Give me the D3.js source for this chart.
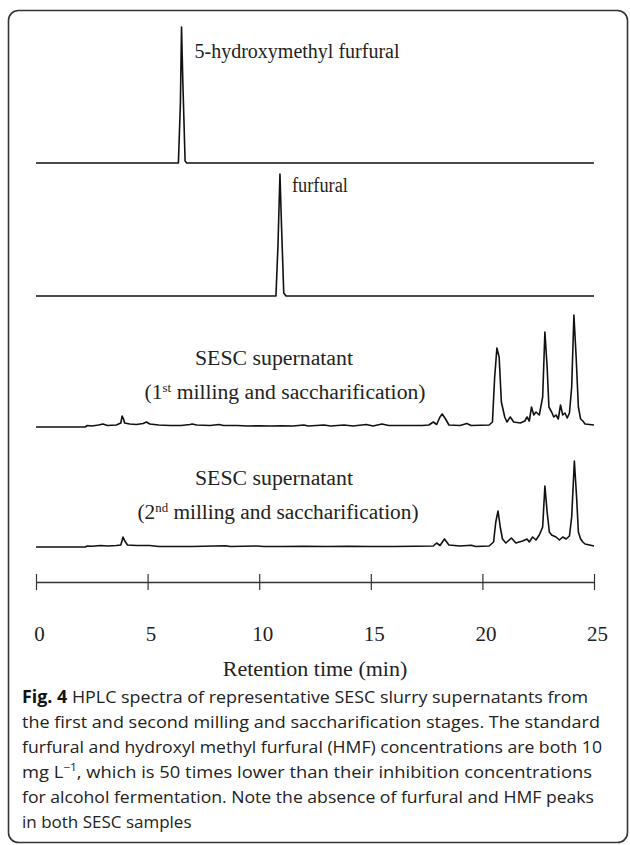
<!DOCTYPE html>
<html>
<head>
<meta charset="utf-8">
<script src="https://cdn.jsdelivr.net/npm/d3@7"></script>
<style>
  html, body { margin: 0; padding: 0; background: #fff; }
  svg { display: block; }
</style>
</head>
<body>
<div id="chart"></div>
<script>
// retention time (min), signal (relative units)
const hmfTrace = [
  [0, 0], [6.38, 0], [6.47, 60], [6.52, 136], [6.58, 80], [6.68, 2], [6.75, 0], [25, 0]
];
const furfuralTrace = [
  [0, 0], [10.75, 0], [10.84, 50], [10.93, 122], [11.0, 70], [11.1, 3], [11.2, 0], [25, 0]
];
const sesc1Trace = [
  [0, 0], [2.2, 0], [2.3, 1.5], [2.5, 1], [2.8, 2], [3.0, 3], [3.2, 1.5], [3.6, 2], [3.8, 4],
  [3.86, 11], [3.92, 8], [3.97, 4], [4.2, 3], [4.5, 2.5], [4.8, 3.5], [4.95, 5], [5.1, 3],
  [5.5, 2], [6, 1.5], [6.5, 1.5], [6.9, 2.5], [7.0, 3], [7.2, 2], [7.8, 1.5], [8.2, 2.5],
  [8.4, 1.5], [9, 1.5], [9.5, 1], [10, 1.2], [10.5, 1], [11, 1.2], [11.5, 1], [12.0, 2],
  [12.2, 1], [12.9, 2], [13.2, 1], [13.8, 2], [14.2, 1], [14.8, 2.5], [15.1, 1], [15.5, 3],
  [15.8, 1.5], [16.5, 1.5], [17.3, 1.5], [17.6, 2], [17.8, 5], [17.95, 2.5], [18.1, 10],
  [18.2, 13], [18.35, 8], [18.5, 2], [19.0, 1.5], [19.3, 3.5], [19.5, 1.5], [20.3, 2],
  [20.45, 5], [20.55, 50], [20.65, 79], [20.75, 70], [20.85, 25], [21.0, 10], [21.1, 5],
  [21.25, 10], [21.4, 5], [21.7, 4], [21.9, 6], [22.0, 10], [22.1, 6], [22.2, 20], [22.3, 12],
  [22.4, 15], [22.55, 12], [22.7, 30], [22.8, 95], [22.9, 60], [22.98, 20], [23.1, 15],
  [23.2, 10], [23.3, 12], [23.4, 8], [23.5, 22], [23.6, 12], [23.7, 14], [23.8, 9], [23.9, 14],
  [24.0, 40], [24.1, 112], [24.2, 70], [24.3, 20], [24.4, 8], [24.5, 6], [24.6, 3], [25, 2]
];
const sesc2Trace = [
  [0, 0], [2.2, 0], [2.3, 1], [2.5, 0.8], [2.9, 1.5], [3.2, 1], [3.6, 1.5], [3.8, 2], [3.9, 10],
  [3.98, 6], [4.1, 2], [4.5, 1.5], [5.1, 1.5], [5.5, 0.5], [6, 0.5], [7, 0.5], [8.5, 1.3],
  [8.7, 0.5], [9.9, 1], [10.2, 0.5], [11, 0.5], [12, 0.8], [13, 0.5], [14, 0.8], [15, 0.5],
  [16, 0.5], [17, 0.7], [17.8, 1], [17.95, 4], [18.1, 1.5], [18.3, 8], [18.5, 2], [19, 1],
  [19.5, 1.8], [19.7, 0.5], [20.3, 1], [20.5, 5], [20.6, 25], [20.7, 36], [20.8, 20], [20.9, 8],
  [21.05, 4], [21.3, 9], [21.5, 4], [21.8, 6], [22.0, 8], [22.1, 5], [22.25, 10], [22.4, 7],
  [22.55, 12], [22.7, 20], [22.8, 61], [22.9, 35], [23.0, 15], [23.1, 12], [23.3, 10],
  [23.45, 7], [23.6, 10], [23.75, 8], [23.9, 11], [24.0, 30], [24.12, 86], [24.22, 50],
  [24.3, 15], [24.4, 8], [24.5, 5], [24.6, 3], [25, 1]
];

const timeTicks = [0, 5, 10, 15, 20, 25];
const axisTitle = "Retention time (min)";
// each caption line as [text, superscript, text]
const captionLines = [
  ["HPLC spectra of representative SESC slurry supernatants from"],
  ["the first and second milling and saccharification stages. The standard"],
  ["furfural and hydroxyl methyl furfural (HMF) concentrations are both 10"],
  ["mg L", "\u22121", ", which is 50 times lower than their inhibition concentrations"],
  ["for alcohol fermentation. Note the absence of furfural and HMF peaks"],
  ["in both SESC samples"]
];

const width = 630, height = 845;
const svg = d3.select("#chart").append("svg")
  .attr("width", width).attr("height", height);

// frame
svg.append("rect")
  .attr("x", 8.5).attr("y", 10.5)
  .attr("width", 619).attr("height", 832)
  .attr("rx", 10)
  .attr("fill", "none").attr("stroke", "#333").attr("stroke-width", 1.6);

const x = d3.scaleLinear().domain([0, 25]).range([36, 594]);
const y = d3.scaleLinear().domain([0, 140]).range([0, -140]);

const panels = [
  { data: hmfTrace, base: 163 },
  { data: furfuralTrace, base: 296 },
  { data: sesc1Trace, base: 427 },
  { data: sesc2Trace, base: 547 }
];

const line = d3.line().x(d => x(d[0])).y(d => y(d[1]));

panels.forEach(p => {
  svg.append("g")
    .attr("transform", `translate(0,${p.base})`)
    .append("path")
    .datum(p.data)
    .attr("d", line)
    .attr("fill", "none")
    .attr("stroke", "#111")
    .attr("stroke-width", 1.6)
    .attr("stroke-linejoin", "round");
});

const serif = "'Liberation Serif', 'Times New Roman', serif";
const label = (tx, ty, anchor, len) => {
  const t = svg.append("text")
    .attr("x", tx).attr("y", ty)
    .attr("text-anchor", anchor)
    .attr("font-family", serif).attr("font-size", 20).attr("fill", "#222");
  if (len) t.attr("textLength", len).attr("lengthAdjust", "spacingAndGlyphs");
  return t;
};

label(x(6.52) + 13, 58, "start", 205).text("5-hydroxymethyl furfural");
label(x(10.93) + 12, 192, "start", 56).text("furfural");

// sample labels: ordinal, superscript, baselines, centre of second line
const sescLabels = [
  { n: "1", sup: "st", top: 365, bottom: 399, cx: 285 },
  { n: "2", sup: "nd", top: 485, bottom: 519, cx: 278 }
];
sescLabels.forEach(s => {
  label(274, s.top, "middle", 158).text("SESC supernatant");
  const l = label(s.cx, s.bottom, "middle", 281);
  l.append("tspan").text("(" + s.n);
  l.append("tspan").attr("baseline-shift", "super").attr("font-size", 12).text(s.sup);
  l.append("tspan").text(" milling and saccharification)");
});

// x axis
const axisY = 582;
const axis = svg.append("g")
  .attr("transform", `translate(0,${axisY})`)
  .call(d3.axisBottom(x).tickValues(timeTicks).tickSize(0).tickPadding(44)
    .tickFormat(d3.format("d")));
axis.select(".domain").attr("stroke", "#333").attr("stroke-width", 1.4);
axis.selectAll(".tick line").remove();
axis.selectAll(".tick").append("line")
  .attr("y1", -8).attr("y2", 8)
  .attr("stroke", "#333").attr("stroke-width", 1.2);
axis.selectAll(".tick text")
  .attr("dx", 3)
  .attr("font-family", serif).attr("font-size", 21).attr("fill", "#222");

svg.append("text")
  .attr("x", x(12.5)).attr("y", axisY + 94)
  .attr("text-anchor", "middle")
  .attr("font-family", serif).attr("font-size", 22).attr("fill", "#222")
  .text(axisTitle);

// caption
const sans = "'Open Sans', 'Noto Sans', sans-serif";
const capTop = 703, capStep = 25;
const capWidths = [566, 578, 580, 570, 572, null];
captionLines.forEach((parts, i) => {
  const tx = svg.append("text")
    .attr("x", 22).attr("y", capTop + i * capStep)
    .attr("font-family", sans).attr("font-size", 17).attr("fill", "#222");
  if (i === 0) {
    tx.append("tspan").attr("font-weight", "bold").attr("fill", "#111").text("Fig. 4 ");
  }
  tx.append("tspan").text(parts[0]);
  if (parts.length > 1) {
    tx.append("tspan").attr("baseline-shift", "super").attr("font-size", 11).text(parts[1]);
    tx.append("tspan").text(parts[2]);
  }
  if (capWidths[i]) tx.attr("textLength", capWidths[i]).attr("lengthAdjust", "spacingAndGlyphs");
});
</script>
</body>
</html>
